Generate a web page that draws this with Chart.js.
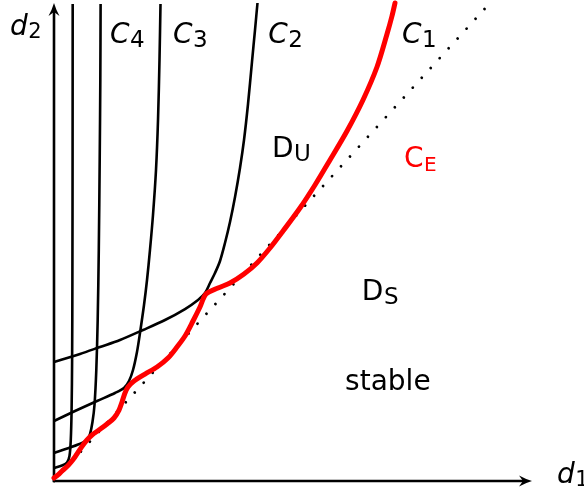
<!DOCTYPE html>
<html><head><meta charset="utf-8">
<script src="https://cdn.jsdelivr.net/npm/chart.js@4/dist/chart.umd.min.js"></script>
<style>html,body{margin:0;padding:0;background:#fff;}#wrap{width:584px;height:493px;}</style>
</head><body><div id="wrap"><canvas id="c" width="584" height="493"></canvas></div>
<script>
// ---- data (d1, d2 in arbitrary units) ----
const c5X = [0, 0.167, 0.272, 0.324, 0.351, 0.368, 0.379, 0.385, 0.389, 0.391];
const c5Y = [0.272, 0.324, 0.387, 0.523, 0.858, 1.485, 2.531, 4.205, 6.925, 9.98];

const c4X = [0, 0.335, 0.586, 0.690, 0.753, 0.805, 0.847, 0.885, 0.914, 0.937, 0.956, 0.969, 0.975];
const c4Y = [0.586, 0.701, 0.795, 0.858, 0.983, 1.234, 1.590, 2.322, 3.368, 4.833, 6.715, 8.389, 9.979];

const c3X = [0, 0.439, 0.900, 1.276, 1.464, 1.569, 1.653, 1.736, 1.799, 1.883, 1.946, 2.008, 2.071, 2.134, 2.176, 2.207, 2.228];
const c3Y = [1.255, 1.464, 1.674, 1.841, 1.946, 2.092, 2.322, 2.699, 3.096, 3.682, 4.205, 4.833, 5.565, 6.506, 7.552, 8.808, 9.979];

const c2X = [0, 0.544, 0.962, 1.381, 1.862, 2.322, 2.741, 3.013, 3.159, 3.264, 3.368, 3.473, 3.577, 3.682, 3.787, 3.891, 3.975, 4.059, 4.142, 4.205, 4.257];
const c2Y = [2.490, 2.657, 2.803, 2.950, 3.159, 3.368, 3.598, 3.787, 3.933, 4.142, 4.351, 4.603, 4.979, 5.418, 5.941, 6.548, 7.134, 7.887, 8.766, 9.435, 10.0];

const ceX = [0, 0.084, 0.167, 0.262, 0.356, 0.439, 0.523, 0.607, 0.690, 0.795, 0.941, 1.109, 1.255, 1.360, 1.423, 1.485, 1.548, 1.674, 1.904, 2.155, 2.385, 2.573, 2.741, 2.908, 3.054, 3.180, 3.431, 3.682, 3.975, 4.247, 4.519, 4.791, 5.146, 5.460, 5.774, 6.130, 6.464, 6.757, 6.967, 7.071, 7.134];
const ceY = [0.063, 0.126, 0.209, 0.293, 0.397, 0.502, 0.628, 0.753, 0.858, 0.962, 1.067, 1.192, 1.318, 1.485, 1.653, 1.841, 1.967, 2.092, 2.238, 2.385, 2.573, 2.803, 3.033, 3.347, 3.640, 3.912, 4.038, 4.142, 4.331, 4.561, 4.874, 5.230, 5.711, 6.192, 6.715, 7.322, 7.971, 8.661, 9.351, 9.728, 10.0];

const diagX = [0, 9.12];
const diagY = [0, 10];

const labels = [
  {main:'C', sub:'4', x:1.17, y:9.16, color:'#000', italic:true},
  {main:'C', sub:'3', x:2.49, y:9.16, color:'#000', italic:true},
  {main:'C', sub:'2', x:4.48, y:9.16, color:'#000', italic:true},
  {main:'C', sub:'1', x:7.28, y:9.16, color:'#000', italic:true},
  {main:'D', sub:'U', x:4.56, y:6.78, color:'#000', italic:false},
  {main:'C', sub:'E', x:7.32, y:6.57, color:'#ff0000', italic:false, subSize:20},
  {main:'D', sub:'S', x:6.44, y:3.79, color:'#000', italic:false},
];

const pts = (X, Y) => X.map((x, i) => ({x, y: Y[i]}));

const FONT = '"DejaVu Sans", sans-serif';

function arrowHead(ctx, tx, ty, dx, dy) {
  const L = 13, W = 5.5, inset = 9;
  const px = -dy, py = dx;
  ctx.beginPath();
  ctx.moveTo(tx, ty);
  ctx.quadraticCurveTo(tx - dx*L*0.5 + px*W*0.35, ty - dy*L*0.5 + py*W*0.35, tx - dx*L + px*W, ty - dy*L + py*W);
  ctx.lineTo(tx - dx*inset, ty - dy*inset);
  ctx.lineTo(tx - dx*L - px*W, ty - dy*L - py*W);
  ctx.quadraticCurveTo(tx - dx*L*0.5 - px*W*0.35, ty - dy*L*0.5 - py*W*0.35, tx, ty);
  ctx.closePath();
  ctx.fill();
}

const axesPlugin = {
  id: 'axesArrows',
  beforeDatasetsDraw(chart) {
    const {ctx, scales:{x, y}} = chart;
    const ox = x.getPixelForValue(0), oy = y.getPixelForValue(0);
    const xr = x.getPixelForValue(10), yt = y.getPixelForValue(10);
    ctx.save();
    ctx.strokeStyle = '#000'; ctx.fillStyle = '#000';
    ctx.lineWidth = 2.6; ctx.lineCap = 'butt';
    ctx.beginPath();
    ctx.moveTo(ox - 1.3, oy); ctx.lineTo(xr - 6, oy);
    ctx.moveTo(ox, oy + 1.3); ctx.lineTo(ox, yt + 6);
    ctx.stroke();
    arrowHead(ctx, xr, oy, 1, 0);
    arrowHead(ctx, ox, yt, 0, -1);
    ctx.restore();
  }
};

function drawSubLabel(ctx, px, py, main, sub, color, italic, mainSize, subSize, subDrop) {
  ctx.fillStyle = color;
  ctx.textBaseline = 'alphabetic';
  ctx.textAlign = 'left';
  ctx.font = (italic ? 'italic ' : '') + mainSize + 'px ' + FONT;
  ctx.fillText(main, px, py);
  const w = ctx.measureText(main).width;
  ctx.font = subSize + 'px ' + FONT;
  ctx.fillText(sub, px + w + 0.5, py + subDrop);
}

const textPlugin = {
  id: 'texts',
  afterDraw(chart) {
    const {ctx, scales:{x, y}} = chart;
    ctx.save();
    labels.forEach(l => {
      drawSubLabel(ctx, x.getPixelForValue(l.x), y.getPixelForValue(l.y), l.main, l.sub, l.color, l.italic, 28, l.subSize || 23, 4);
    });
    ctx.fillStyle = '#000';
    ctx.font = '28px ' + FONT;
    ctx.textAlign = 'left';
    ctx.fillText('stable', x.getPixelForValue(6.09), y.getPixelForValue(1.9));
    const ox = x.getPixelForValue(0), oy = y.getPixelForValue(0);
    drawSubLabel(ctx, ox - 44, y.getPixelForValue(10) + 32, 'd', '2', '#000', true, 28, 21, 3);
    drawSubLabel(ctx, x.getPixelForValue(10) + 25, oy + 2, 'd', '1', '#000', true, 28, 21, 3);
    ctx.restore();
  }
};

const common = {pointRadius: 0, pointHoverRadius: 0, fill: false, showLine: true, clip: false};

new Chart(document.getElementById('c'), {
  type: 'scatter',
  data: {
    datasets: [
      {...common, label: 'C_E', data: pts(ceX, ceY), borderColor: '#ff0000', borderWidth: 5, tension: 0.3, borderCapStyle: 'round', borderJoinStyle: 'round'},
      {...common, label: 'C2', data: pts(c2X, c2Y), borderColor: '#000', borderWidth: 2.6, tension: 0.3},
      {...common, label: 'C3', data: pts(c3X, c3Y), borderColor: '#000', borderWidth: 2.6, tension: 0.3},
      {...common, label: 'C4', data: pts(c4X, c4Y), borderColor: '#000', borderWidth: 2.6, tension: 0.3},
      {...common, label: 'C5', data: pts(c5X, c5Y), borderColor: '#000', borderWidth: 2.6, tension: 0.3},
      {...common, label: 'diag', data: pts(diagX, diagY), borderColor: '#000', borderWidth: 2.8, borderDash: [0.01, 13.3], borderCapStyle: 'round', tension: 0},
    ]
  },
  options: {
    responsive: false,
    animation: false,
    devicePixelRatio: 1,
    layout: {padding: {left: 54, right: 52, top: 3, bottom: 12}},
    plugins: {legend: {display: false}, tooltip: {enabled: false}},
    events: [],
    scales: {
      x: {type: 'linear', display: false, min: 0, max: 10},
      y: {type: 'linear', display: false, min: 0, max: 10}
    }
  },
  plugins: [axesPlugin, textPlugin]
});
</script>
</body></html>
